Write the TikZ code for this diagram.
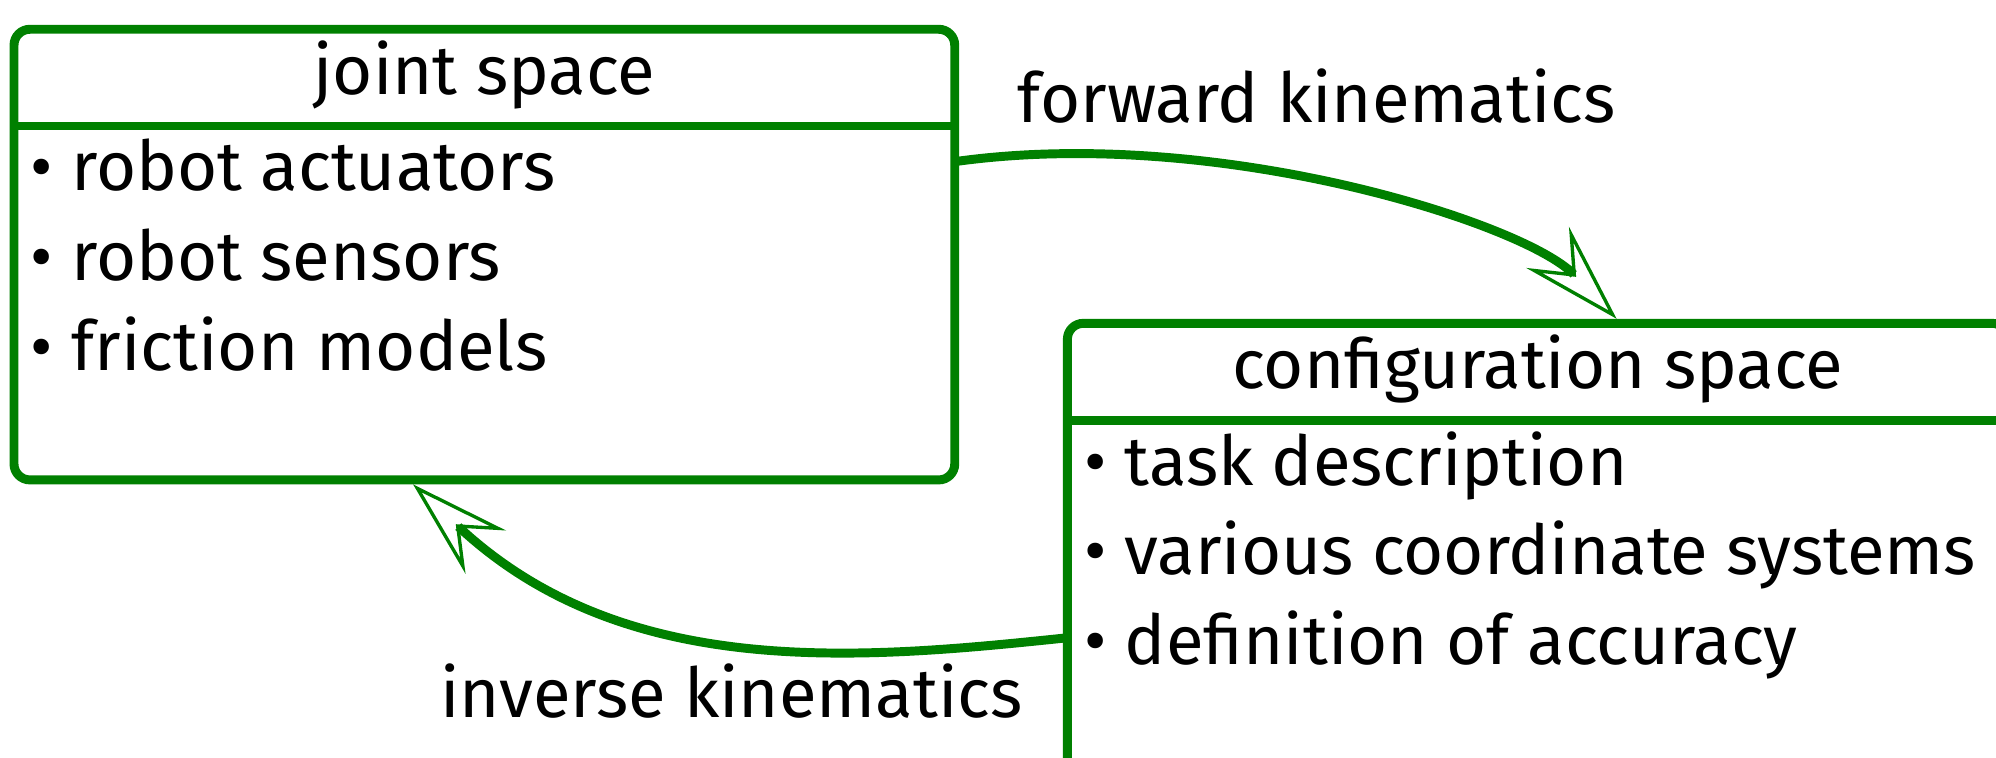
\documentclass[tikz,border=0pt]{standalone}
\usepackage{fontspec}
\setmainfont{Fira Sans}
\usetikzlibrary{arrows.meta,positioning}
\definecolor{kingreen}{RGB}{0,128,0}
\tikzset{
  spacebox/.style={draw=kingreen, line width=4pt, rounded corners=0.25cm, minimum width=14.78cm, minimum height=7.08cm, anchor=north west, inner sep=0pt, outer sep=0pt},
  boxtitle/.style={anchor=base, inner sep=0pt, font=\fontsize{30.8}{36}\selectfont},
  boxitem/.style={anchor=base west, inner sep=0pt, font=\fontsize{30.8}{36}\selectfont},
  kinlabel/.style={anchor=base, inner sep=0pt, font=\fontsize{30.8}{36}\selectfont},
  kinarrow/.style={draw=kingreen, line width=4pt, -{Stealth[open, length=1.56cm, width=0.93cm, inset=0.56cm, line width=1.5pt]}},
}

\begin{document}
\begin{tikzpicture}
\useasboundingbox (0,0) rectangle (31.36,-11.9);

% the two spaces
\node[spacebox] (js) at (0.22,-0.46) {};
\node[spacebox] (cs) at (16.77,-5.08) {};

\node[boxtitle] (jstitle) at ([yshift=-1.03cm]js.north) {joint space};
\node[boxtitle] (cstitle) at ([yshift=-1.03cm]cs.north) {configuration space};

\draw[kingreen, line width=4pt] ([yshift=-1.52cm]js.north west) -- ([yshift=-1.52cm]js.north east);
\draw[kingreen, line width=4pt] ([yshift=-1.52cm]cs.north west) -- ([yshift=-1.52cm]cs.north east);

\foreach \txt [count=\i] in {robot actuators, robot sensors, friction models} {
\node[boxitem] (jsitem\i) at ([shift={(0.26cm,-1.13cm-\i*1.41cm)}]js.north west) {\textbullet\ \txt};
}
\foreach \txt [count=\i] in {task description, various coordinate systems, definition of accuracy} {
\node[boxitem] (csitem\i) at ([shift={(0.26cm,-1.13cm-\i*1.41cm)}]cs.north west) {\textbullet\ \txt};
}

% kinematics
\node[kinlabel] (fwlabel) at (20.69,-1.93) {forward kinematics};
\node[kinlabel] (invlabel) at (11.49,-11.28) {inverse kinematics};

\draw[kinarrow] ([yshift=-2.08cm]js.north east) to[out=8, in=134, in looseness=0.5] ([shift={(8.63cm,2pt)}]cs.north west);
\draw[kinarrow] ([yshift=-4.94cm]cs.north west) to[out=186, out looseness=0.8, in=-43, in looseness=1.1] ([shift={(6.27cm,-2pt)}]js.south west);
\end{tikzpicture}
\end{document}
